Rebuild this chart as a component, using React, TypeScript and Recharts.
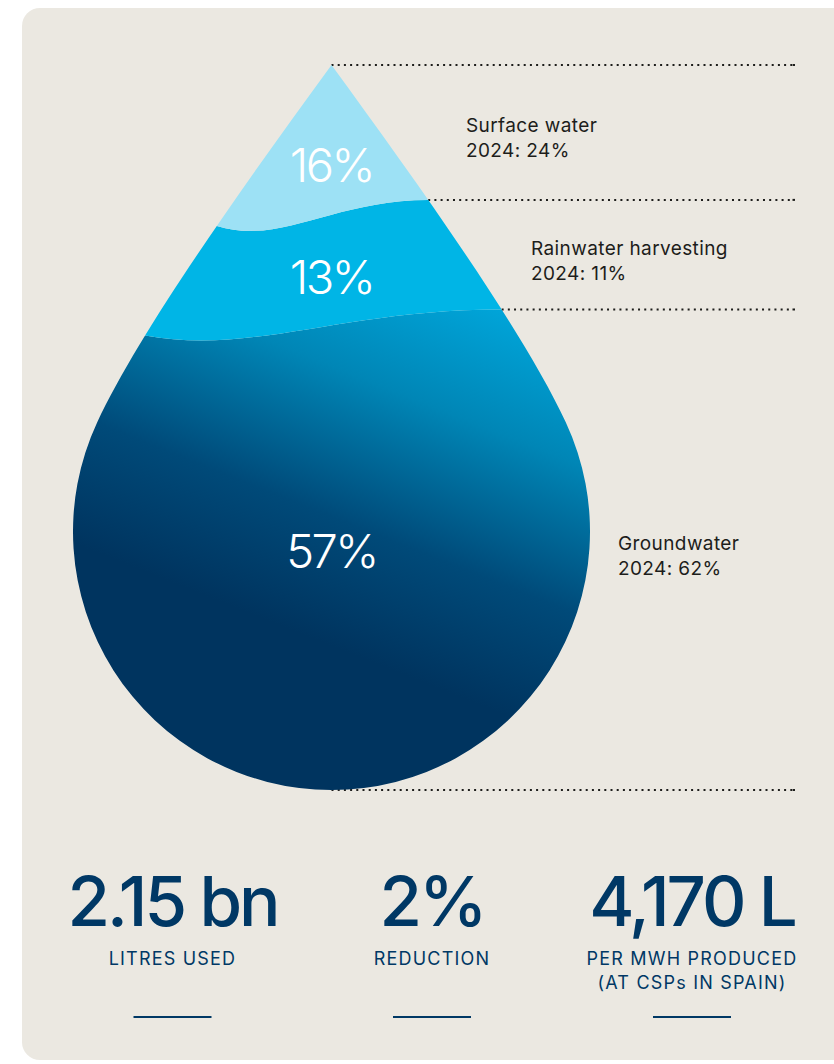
import React from 'react';
import { BarChart, Bar, XAxis, YAxis } from 'recharts';

// water withdrawal by source, share of total (%)
const SOURCES = ['Groundwater', 'Rainwater harvesting', 'Surface water'];
const SERIES_KEYS = ['groundwater', 'rainwater', 'surface'];
const SHARE_2025 = [57, 13, 16];
const SHARE_2024 = [62, 11, 24];

// headline figures under the drop
const STAT_VALUES = ['2.15 bn', '2%', '4,170 L'];
const STAT_LABELS = [['LITRES USED'], ['REDUCTION'], ['PER MWH PRODUCED', '(AT CSPs IN SPAIN)']];

const TOTAL = SHARE_2025.reduce((a, b) => a + b, 0);
const row: Record<string, string | number> = { name: 'Water sources' };
SERIES_KEYS.forEach((k, i) => {
  row[k] = SHARE_2025[i];
});
const data = [row];

const FONT = "Inter, 'Noto Sans', sans-serif";
const NAVY = '#003865';
const INK = '#1d1d1b';

const W = 834;
const H = 1064;
const MARGIN = { top: 65, right: 244, bottom: 274, left: 73 };
const PLOT_TOP = MARGIN.top;
const PLOT_BOTTOM = H - MARGIN.bottom;
const CX = (MARGIN.left + (W - MARGIN.right)) / 2;
const R = (W - MARGIN.right - MARGIN.left) / 2;
const CY = PLOT_BOTTOM - R;
const LINE_END = 795;

const FILLS = ['url(#ground-grad)', '#00b5e6', '#9de1f5'];
const SIDE_LABEL_X = [618, 531, 466];
const PCT_LABEL_FRAC = [0.537, 0.855, 0.87];

// drop outline: curved sides from the tip joining a circle at the bottom
const JOIN = (65 * Math.PI) / 180;
const TIP = { x: CX, y: PLOT_TOP };
const J = { x: CX + R * Math.sin(JOIN), y: CY - R * Math.cos(JOIN) };
const C1 = { x: CX + 150 * 0.59, y: PLOT_TOP + 150 * 0.807 };
const C2 = { x: J.x - 100 * Math.cos(JOIN), y: J.y - 100 * Math.sin(JOIN) };
const mx = (x: number) => 2 * CX - x;

const DROP_PATH =
  `M${TIP.x},${TIP.y} C${C1.x},${C1.y} ${C2.x},${C2.y} ${J.x},${J.y} ` +
  `A${R},${R} 0 1 1 ${mx(J.x)},${J.y} ` +
  `C${mx(C2.x)},${C2.y} ${mx(C1.x)},${C1.y} ${TIP.x},${TIP.y} Z`;

function bez(t: number, a: number, b: number, c: number, d: number) {
  const u = 1 - t;
  return u * u * u * a + 3 * u * u * t * b + 3 * u * t * t * c + t * t * t * d;
}

function edgeX(y: number) {
  if (y <= TIP.y) return CX;
  if (y >= J.y) {
    const dy = y - CY;
    return CX + Math.sqrt(Math.max(0, R * R - dy * dy));
  }
  let lo = 0;
  let hi = 1;
  for (let i = 0; i < 40; i++) {
    const m = (lo + hi) / 2;
    if (bez(m, TIP.y, C1.y, C2.y, J.y) < y) lo = m;
    else hi = m;
  }
  return bez(lo, TIP.x, C1.x, C2.x, J.x);
}

const WAVE_DROP = 26;
const WAVE_DIP = 46;
const X_MIN = CX - R - 30;
const X_MAX = CX + R + 30;

function wave(y0: number) {
  const xR = edgeX(y0);
  const xL = mx(edgeX(y0 + WAVE_DROP));
  const s = xR - xL;
  return {
    xL,
    xR,
    yL: y0 + WAVE_DROP,
    c1: { x: xL + 0.3 * s, y: y0 + WAVE_DIP },
    c2: { x: xL + 0.55 * s, y: y0 },
  };
}

function bandPath(top: number, bottom: number) {
  let d = '';
  if (top <= PLOT_TOP + 0.5) {
    d += `M${X_MIN},${PLOT_TOP - 10} L${X_MAX},${PLOT_TOP - 10}`;
  } else {
    const w = wave(top);
    d += `M${X_MIN},${w.yL} L${w.xL},${w.yL} C${w.c1.x},${w.c1.y} ${w.c2.x},${w.c2.y} ${w.xR},${top} L${X_MAX},${top}`;
  }
  if (bottom >= PLOT_BOTTOM - 0.5) {
    d += ` L${X_MAX},${PLOT_BOTTOM + 10} L${X_MIN},${PLOT_BOTTOM + 10}`;
  } else {
    const w = wave(bottom);
    d += ` L${X_MAX},${bottom} L${w.xR},${bottom} C${w.c2.x},${w.c2.y} ${w.c1.x},${w.c1.y} ${w.xL},${w.yL} L${X_MIN},${w.yL}`;
  }
  return d + ' Z';
}

function DottedLine({ x1, y }: { x1: number; y: number }) {
  return (
    <g>
      <line x1={x1} x2={LINE_END - 3} y1={y} y2={y} stroke={INK} strokeWidth={2} strokeDasharray="2 4.2" />
      <rect x={LINE_END - 2.5} y={y - 1} width={2.5} height={2} fill={INK} />
    </g>
  );
}

function makeShape(i: number) {
  return function DropBand(props: any) {
    const { y, height } = props;
    const top = y;
    const bottom = y + height;
    const mid = y + height / 2;
    return (
      <g>
        <defs>
          <clipPath id={`drop-clip-${i}`}>
            <path d={DROP_PATH} />
          </clipPath>
          {i === 0 && (
            <linearGradient id="ground-grad" gradientUnits="userSpaceOnUse" x1={520} y1={290} x2={372} y2={662}>
              <stop offset="0" stopColor="#00abe0" />
              <stop offset="0.35" stopColor="#0086b6" />
              <stop offset="0.7" stopColor="#004a79" />
              <stop offset="1" stopColor="#00345f" />
            </linearGradient>
          )}
        </defs>
        <DottedLine x1={edgeX(top)} y={top} />
        {i === 0 && <DottedLine x1={CX} y={bottom} />}
        <g clipPath={`url(#drop-clip-${i})`}>
          <path d={bandPath(top, bottom)} fill={FILLS[i]} />
        </g>
        <text
          x={CX}
          y={top + height * PCT_LABEL_FRAC[i]}
          textAnchor="middle"
          fill="#ffffff"
          fontFamily={FONT}
          fontSize={47}
          fontWeight={300}
          letterSpacing={-2.5}
        >
          {`${SHARE_2025[i]}%`}
        </text>
        <text x={SIDE_LABEL_X[i]} y={mid} fill={INK} fontFamily={FONT} fontSize={19} letterSpacing={0.4}>
          <tspan x={SIDE_LABEL_X[i]} dy={0}>{SOURCES[i]}</tspan>
          <tspan x={SIDE_LABEL_X[i]} dy={25}>{`2024: ${SHARE_2024[i]}%`}</tspan>
        </text>
      </g>
    );
  };
}

const STAT_X = [172.5, 432, 692];

export default function App() {
  return (
    <div
      style={{
        position: 'absolute',
        left: 0,
        top: 0,
        width: W,
        height: H,
        overflow: 'hidden',
        background: '#ffffff',
        fontFamily: FONT,
      }}
    >
      <div
        style={{
          position: 'absolute',
          left: 22,
          top: 8,
          width: 830,
          height: 1052,
          borderRadius: 18,
          background: '#ebe8e1',
        }}
      />
      <div style={{ position: 'absolute', left: 0, top: 0 }}>
        <BarChart width={W} height={H} data={data} margin={MARGIN} barCategoryGap={0} barGap={0}>
          <XAxis dataKey="name" hide />
          <YAxis hide type="number" domain={[0, TOTAL]} />
          {SERIES_KEYS.map((k, i) => (
            <Bar key={k} dataKey={k} stackId="drop" isAnimationActive={false} shape={makeShape(i)} />
          ))}
        </BarChart>
      </div>
      <svg width={W} height={H} style={{ position: 'absolute', left: 0, top: 0, pointerEvents: 'none' }}>
        {STAT_VALUES.map((v, i) => (
          <g key={v}>
            <text
              x={STAT_X[i]}
              y={926}
              textAnchor="middle"
              fill={NAVY}
              fontFamily={FONT}
              fontSize={69}
              fontWeight={500}
              letterSpacing={-3}
            >
              {v}
            </text>
            {STAT_LABELS[i].map((l, j) => (
              <text
                key={l}
                x={STAT_X[i]}
                y={965 + j * 24}
                textAnchor="middle"
                fill={NAVY}
                fontFamily={FONT}
                fontSize={18}
                letterSpacing={1.2}
              >
                {l}
              </text>
            ))}
            <line x1={STAT_X[i] - 39} x2={STAT_X[i] + 39} y1={1017} y2={1017} stroke={NAVY} strokeWidth={2} />
          </g>
        ))}
      </svg>
    </div>
  );
}
